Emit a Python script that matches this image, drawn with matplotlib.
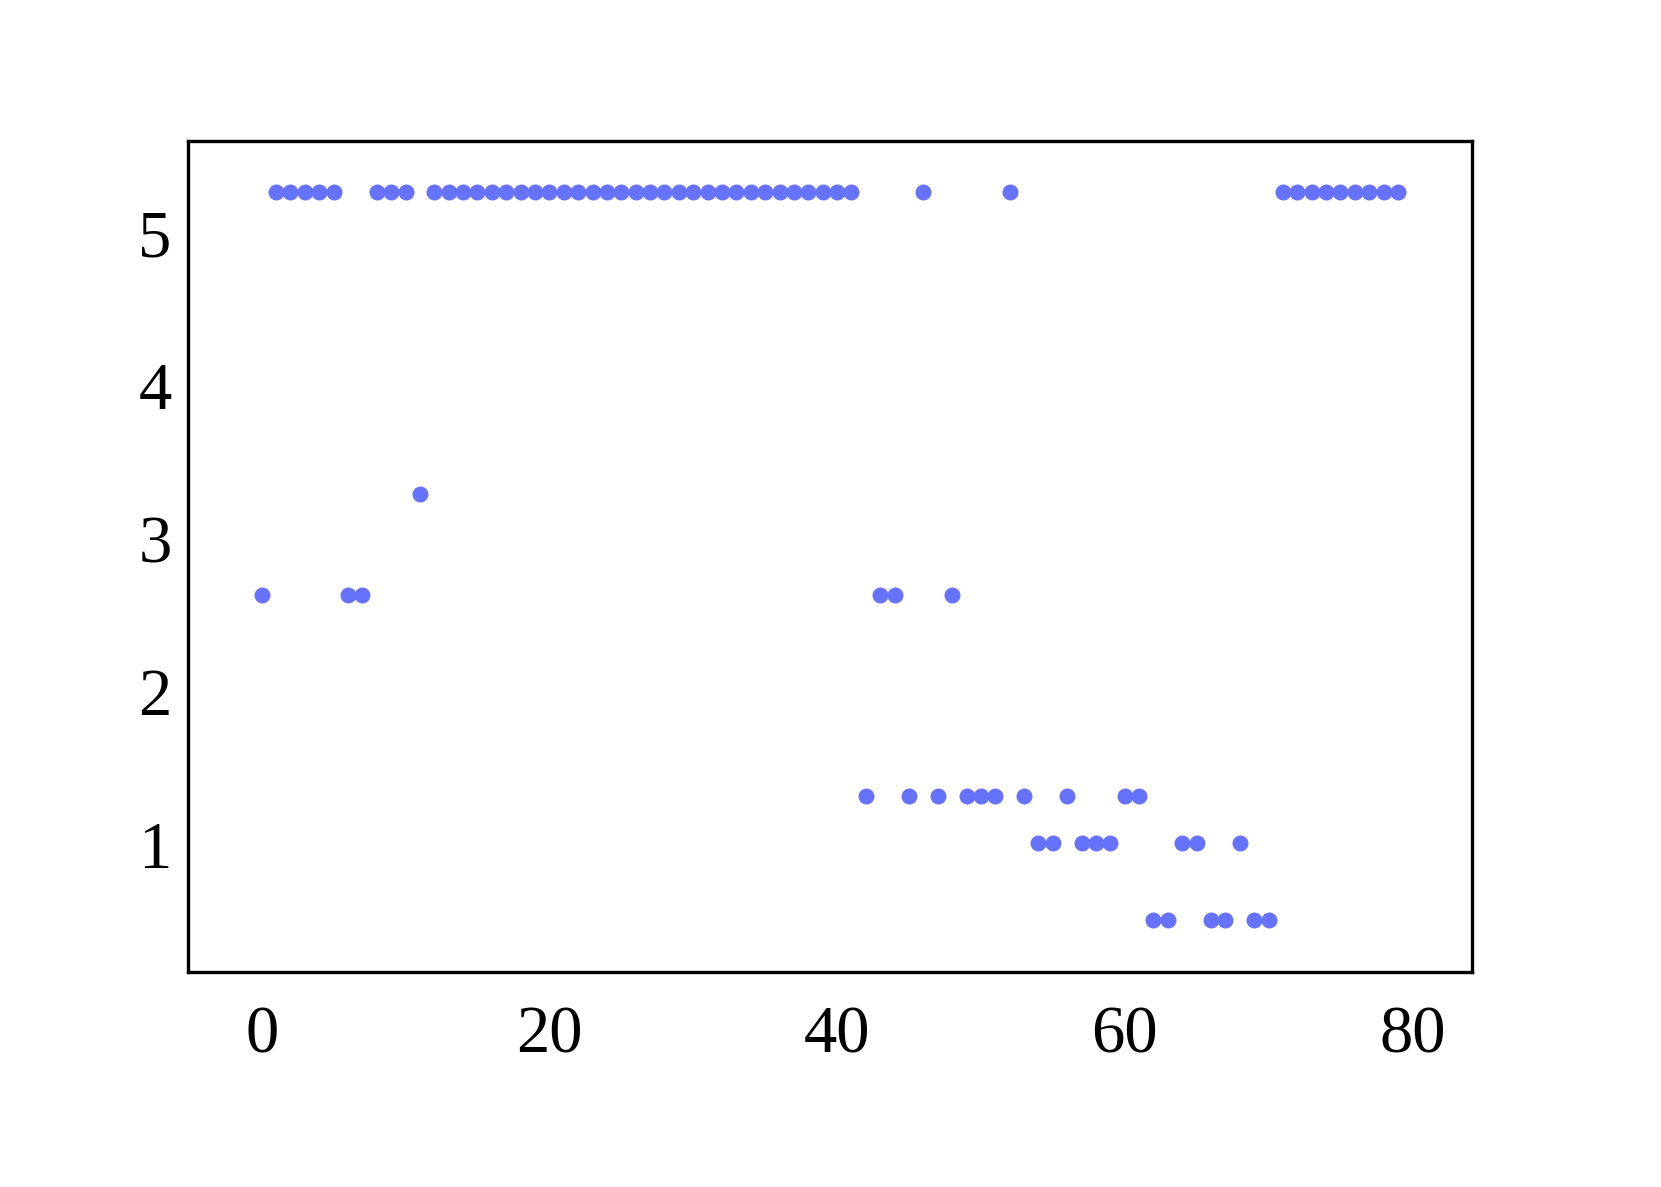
import matplotlib
matplotlib.use("Agg")
import matplotlib.pyplot as plt

# sample index and measured level per sample
idx = list(range(80))
vals = [
    2.635, 5.263, 5.263, 5.263, 5.263, 5.263, 2.635, 2.635, 5.263, 5.263,
    5.263, 3.293, 5.263, 5.263, 5.263, 5.263, 5.263, 5.263, 5.263, 5.263,
    5.263, 5.263, 5.263, 5.263, 5.263, 5.263, 5.263, 5.263, 5.263, 5.263,
    5.263, 5.263, 5.263, 5.263, 5.263, 5.263, 5.263, 5.263, 5.263, 5.263,
    5.263, 5.263, 1.322, 2.635, 2.635, 1.322, 5.263, 1.322, 2.635, 1.322,
    1.322, 1.322, 5.263, 1.322, 1.011, 1.011, 1.322, 1.011, 1.011, 1.011,
    1.322, 1.322, 0.51, 0.51, 1.011, 1.011, 0.51, 0.51, 1.011, 0.51,
    0.51, 5.263, 5.263, 5.263, 5.263, 5.263, 5.263, 5.263, 5.263, 5.263,
]
xticks = [0, 20, 40, 60, 80]
yticks = [1, 2, 3, 4, 5]

plt.rcParams['font.family'] = ['Liberation Serif', 'DejaVu Serif']

fig = plt.figure(figsize=(1661 / 240, 1187 / 240), dpi=240)
ax = fig.add_axes([0.1134, 0.1814, 0.7726, 0.6998])
ax.scatter(idx, vals, s=23, color="#6672fa", linewidths=0)

ax.set_xlim(-5.1, 84.12)
ax.set_ylim(0.172, 5.598)
ax.set_xticks(xticks)
ax.set_yticks(yticks)
ax.tick_params(axis="both", length=0, labelsize=20)
ax.tick_params(axis="x", pad=10)
ax.tick_params(axis="y", pad=5)
for sp in ax.spines.values():
    sp.set_linewidth(1.0)

fig.savefig("out.png", dpi=240)
